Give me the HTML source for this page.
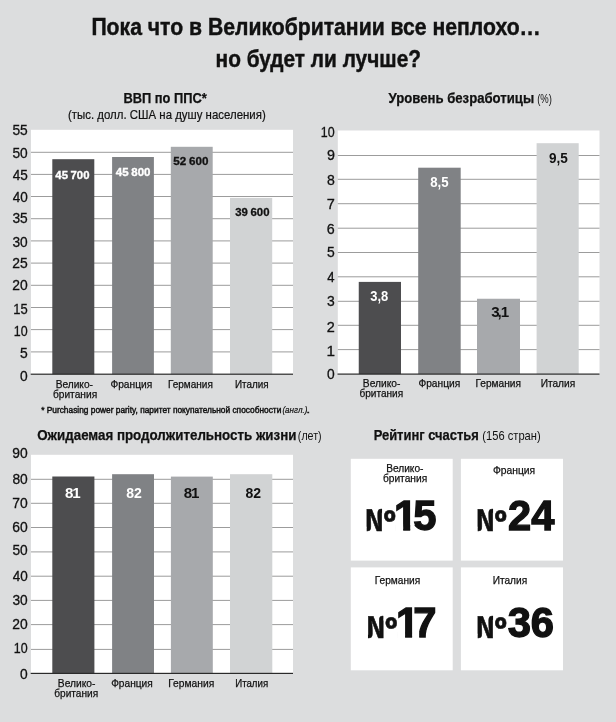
<!DOCTYPE html>
<html lang="ru">
<head>
<meta charset="utf-8">
<title>Пока что в Великобритании все неплохо… но будет ли лучше?</title>
<style>
html,body{margin:0;padding:0;background:#dcddde;}
body{width:616px;height:722px;overflow:hidden;}
svg{display:block;font-family:"Liberation Sans",sans-serif;fill:#111111;}
</style>
</head>
<body>
<svg width="616" height="722" viewBox="0 0 616 722">
<rect x="0" y="0" width="616" height="722" fill="#dcddde"/>
<text x="91.39" y="35.3" font-size="24.3" font-weight="bold" stroke="#111111" stroke-width="0.45" textLength="449.39" lengthAdjust="spacingAndGlyphs">Пока что в Великобритании все неплохо…</text>
<text x="215.55" y="67.1" font-size="24.3" font-weight="bold" stroke="#111111" stroke-width="0.45" textLength="205.44" lengthAdjust="spacingAndGlyphs">но будет ли лучше?</text>
<text x="123.39" y="102.5" font-size="14.0" font-weight="bold" stroke="#111111" stroke-width="0.25" textLength="83.37" lengthAdjust="spacingAndGlyphs">ВВП по ППС*</text>
<text x="68.04" y="119" font-size="12.4" stroke="#111111" stroke-width="0.2" textLength="197.66" lengthAdjust="spacingAndGlyphs">(тыс. долл. США на душу населения)</text>
<rect x="31" y="129.8" width="262" height="244.4" fill="#ffffff"/>
<text x="12.45" y="135.4" font-size="14.6" stroke="#111111" stroke-width="0.3" textLength="15.33" lengthAdjust="spacingAndGlyphs">55</text>
<rect x="31" y="151.8" width="262" height="1" fill="#9c9c9c"/>
<text x="12.45" y="157.9" font-size="14.6" stroke="#111111" stroke-width="0.3" textLength="15.29" lengthAdjust="spacingAndGlyphs">50</text>
<rect x="31" y="173.9" width="262" height="1" fill="#9c9c9c"/>
<text x="12.69" y="179.7" font-size="14.6" stroke="#111111" stroke-width="0.3" textLength="15.08" lengthAdjust="spacingAndGlyphs">45</text>
<rect x="31" y="196.0" width="262" height="1" fill="#9c9c9c"/>
<text x="12.69" y="201.9" font-size="14.6" stroke="#111111" stroke-width="0.3" textLength="15.04" lengthAdjust="spacingAndGlyphs">40</text>
<rect x="31" y="218.2" width="262" height="1" fill="#9c9c9c"/>
<text x="12.48" y="223.4" font-size="14.6" stroke="#111111" stroke-width="0.3" textLength="15.3" lengthAdjust="spacingAndGlyphs">35</text>
<rect x="31" y="240.4" width="262" height="1" fill="#9c9c9c"/>
<text x="12.48" y="246.5" font-size="14.6" stroke="#111111" stroke-width="0.3" textLength="15.26" lengthAdjust="spacingAndGlyphs">30</text>
<rect x="31" y="262.6" width="262" height="1" fill="#9c9c9c"/>
<text x="12.3" y="267.7" font-size="14.6" stroke="#111111" stroke-width="0.3" textLength="15.48" lengthAdjust="spacingAndGlyphs">25</text>
<rect x="31" y="284.8" width="262" height="1" fill="#9c9c9c"/>
<text x="12.3" y="289.8" font-size="14.6" stroke="#111111" stroke-width="0.3" textLength="15.44" lengthAdjust="spacingAndGlyphs">20</text>
<rect x="31" y="307.0" width="262" height="1" fill="#9c9c9c"/>
<text x="13.31" y="313.5" font-size="14.6" stroke="#111111" stroke-width="0.3" textLength="14.43" lengthAdjust="spacingAndGlyphs">15</text>
<rect x="31" y="329.1" width="262" height="1" fill="#9c9c9c"/>
<text x="13.85" y="335.5" font-size="14.6" stroke="#111111" stroke-width="0.3" textLength="13.83" lengthAdjust="spacingAndGlyphs">10</text>
<rect x="31" y="351.4" width="262" height="1" fill="#9c9c9c"/>
<text x="20.04" y="358.3" font-size="14.6" stroke="#111111" stroke-width="0.3" textLength="7.74" lengthAdjust="spacingAndGlyphs">5</text>
<text x="20.06" y="380.5" font-size="14.6" stroke="#111111" stroke-width="0.3" textLength="7.68" lengthAdjust="spacingAndGlyphs">0</text>
<rect x="52.3" y="159.2" width="42.0" height="215.0" fill="#4d4d4f"/>
<rect x="112.1" y="157.0" width="41.8" height="217.2" fill="#808285"/>
<rect x="170.8" y="146.8" width="41.9" height="227.4" fill="#a7a9ac"/>
<rect x="230.0" y="197.9" width="42.2" height="176.3" fill="#d1d3d4"/>
<rect x="30.7" y="373.6" width="262.3" height="1.2" fill="#2a2a2a"/>
<text x="55.67" y="387.5" font-size="11.1" stroke="#111111" stroke-width="0.25" textLength="37.28" lengthAdjust="spacingAndGlyphs">Велико-</text>
<text x="52.9" y="397.6" font-size="11.1" stroke="#111111" stroke-width="0.25" textLength="44.3" lengthAdjust="spacingAndGlyphs">британия</text>
<text x="110.41" y="387.5" font-size="11.1" stroke="#111111" stroke-width="0.25" textLength="41.79" lengthAdjust="spacingAndGlyphs">Франция</text>
<text x="167.99" y="387.5" font-size="11.1" stroke="#111111" stroke-width="0.25" textLength="44.89" lengthAdjust="spacingAndGlyphs">Германия</text>
<text x="234.99" y="387.5" font-size="11.1" stroke="#111111" stroke-width="0.25" textLength="33.69" lengthAdjust="spacingAndGlyphs">Италия</text>
<text x="55.33" y="178.75" font-size="10.9" font-weight="bold" fill="#ffffff" stroke="#ffffff" stroke-width="0.35" word-spacing="-0.5" textLength="34.14" lengthAdjust="spacingAndGlyphs">45 700</text>
<text x="115.83" y="176" font-size="10.9" font-weight="bold" fill="#ffffff" stroke="#ffffff" stroke-width="0.35" word-spacing="-0.5" textLength="34.65" lengthAdjust="spacingAndGlyphs">45 800</text>
<text x="173.39" y="164.5" font-size="10.9" font-weight="bold" stroke="#111111" stroke-width="0.3" word-spacing="-0.5" textLength="35.09" lengthAdjust="spacingAndGlyphs">52 600</text>
<text x="235.24" y="215.5" font-size="10.9" font-weight="bold" stroke="#111111" stroke-width="0.3" word-spacing="-0.5" textLength="34.23" lengthAdjust="spacingAndGlyphs">39 600</text>
<text x="41.17" y="412.5" font-size="9.2" stroke="#111111" stroke-width="0.45" textLength="240.21" lengthAdjust="spacingAndGlyphs">* Purchasing power parity, паритет покупательной способности</text>
<text x="282.42" y="412.5" font-size="9.2" font-style="italic" stroke="#111111" stroke-width="0.2" textLength="25.06" lengthAdjust="spacingAndGlyphs">(англ.)</text>
<text x="306.45" y="412.5" font-size="9.2" stroke="#111111" stroke-width="0.45" textLength="3.5" lengthAdjust="spacingAndGlyphs">.</text>
<text x="388.49" y="102.5" font-size="14.0" font-weight="bold" stroke="#111111" stroke-width="0.25" textLength="145.67" lengthAdjust="spacingAndGlyphs">Уровень безработицы</text>
<text x="537.21" y="102.5" font-size="12.4" textLength="14.78" lengthAdjust="spacingAndGlyphs">(%)</text>
<rect x="337.8" y="130.5" width="261.7" height="243.6" fill="#ffffff"/>
<text x="320.85" y="136.8" font-size="14.6" stroke="#111111" stroke-width="0.3" textLength="13.83" lengthAdjust="spacingAndGlyphs">10</text>
<rect x="337.8" y="155.0" width="261.7" height="1" fill="#9c9c9c"/>
<text x="326.93" y="160.1" font-size="14.6" stroke="#111111" stroke-width="0.3" textLength="7.95" lengthAdjust="spacingAndGlyphs">9</text>
<rect x="337.8" y="178.8" width="261.7" height="1" fill="#9c9c9c"/>
<text x="326.99" y="184.7" font-size="14.6" stroke="#111111" stroke-width="0.3" textLength="7.82" lengthAdjust="spacingAndGlyphs">8</text>
<rect x="337.8" y="203.2" width="261.7" height="1" fill="#9c9c9c"/>
<text x="326.86" y="208.6" font-size="14.6" stroke="#111111" stroke-width="0.3" textLength="8.07" lengthAdjust="spacingAndGlyphs">7</text>
<rect x="337.8" y="227.7" width="261.7" height="1" fill="#9c9c9c"/>
<text x="326.87" y="233.5" font-size="14.6" stroke="#111111" stroke-width="0.3" textLength="7.95" lengthAdjust="spacingAndGlyphs">6</text>
<rect x="337.8" y="252.0" width="261.7" height="1" fill="#9c9c9c"/>
<text x="327.04" y="257.0" font-size="14.6" stroke="#111111" stroke-width="0.3" textLength="7.74" lengthAdjust="spacingAndGlyphs">5</text>
<rect x="337.8" y="276.3" width="261.7" height="1" fill="#9c9c9c"/>
<text x="327.3" y="281.6" font-size="14.6" stroke="#111111" stroke-width="0.3" textLength="7.28" lengthAdjust="spacingAndGlyphs">4</text>
<rect x="337.8" y="300.8" width="261.7" height="1" fill="#9c9c9c"/>
<text x="327.07" y="305.8" font-size="14.6" stroke="#111111" stroke-width="0.3" textLength="7.74" lengthAdjust="spacingAndGlyphs">3</text>
<rect x="337.8" y="324.8" width="261.7" height="1" fill="#9c9c9c"/>
<text x="326.87" y="331.7" font-size="14.6" stroke="#111111" stroke-width="0.3" textLength="8.06" lengthAdjust="spacingAndGlyphs">2</text>
<rect x="337.8" y="349.1" width="261.7" height="1" fill="#9c9c9c"/>
<text x="326.43" y="355.8" font-size="14.6" stroke="#111111" stroke-width="0.3" textLength="8.51" lengthAdjust="spacingAndGlyphs">1</text>
<text x="327.06" y="378.5" font-size="14.6" stroke="#111111" stroke-width="0.3" textLength="7.68" lengthAdjust="spacingAndGlyphs">0</text>
<rect x="358.75" y="281.9" width="42.25" height="92.2" fill="#4d4d4f"/>
<rect x="418.2" y="167.7" width="42.5" height="206.4" fill="#808285"/>
<rect x="477" y="298.75" width="43" height="75.35" fill="#a7a9ac"/>
<rect x="536.6" y="143.2" width="42.1" height="230.9" fill="#d1d3d4"/>
<rect x="337.5" y="373.5" width="262.0" height="1.2" fill="#2a2a2a"/>
<text x="362.86" y="387.2" font-size="11.1" stroke="#111111" stroke-width="0.25" textLength="37.59" lengthAdjust="spacingAndGlyphs">Велико-</text>
<text x="359.41" y="397.3" font-size="11.1" stroke="#111111" stroke-width="0.25" textLength="43.79" lengthAdjust="spacingAndGlyphs">британия</text>
<text x="418.41" y="387.2" font-size="11.1" stroke="#111111" stroke-width="0.25" textLength="41.79" lengthAdjust="spacingAndGlyphs">Франция</text>
<text x="475.43" y="387.2" font-size="11.1" stroke="#111111" stroke-width="0.25" textLength="45.51" lengthAdjust="spacingAndGlyphs">Германия</text>
<text x="540.67" y="387.2" font-size="11.1" stroke="#111111" stroke-width="0.25" textLength="34.53" lengthAdjust="spacingAndGlyphs">Италия</text>
<text x="370.2" y="300.9" font-size="14.0" font-weight="bold" fill="#ffffff" textLength="18.0" lengthAdjust="spacingAndGlyphs">3,8</text>
<text x="430.28" y="186.6" font-size="14.0" font-weight="bold" fill="#ffffff" textLength="18.39" lengthAdjust="spacingAndGlyphs">8,5</text>
<text transform="scale(1.08,1)" x="454.77 460.62 463.66" y="316.8" font-size="14.0" font-weight="bold">3,1</text>
<text x="549.03" y="162.8" font-size="14.0" font-weight="bold" textLength="18.85" lengthAdjust="spacingAndGlyphs">9,5</text>
<text x="37.26" y="439.5" font-size="14.0" font-weight="bold" stroke="#111111" stroke-width="0.25" textLength="259.16" lengthAdjust="spacingAndGlyphs">Ожидаемая продолжительность жизни</text>
<text x="297.85" y="439.5" font-size="12.4" textLength="23.8" lengthAdjust="spacingAndGlyphs">(лет)</text>
<rect x="31" y="454.8" width="262" height="218.6" fill="#ffffff"/>
<text x="12.35" y="457.9" font-size="14.6" stroke="#111111" stroke-width="0.3" textLength="15.39" lengthAdjust="spacingAndGlyphs">90</text>
<rect x="31" y="478.8" width="262" height="1" fill="#9c9c9c"/>
<text x="12.4" y="483.9" font-size="14.6" stroke="#111111" stroke-width="0.3" textLength="15.34" lengthAdjust="spacingAndGlyphs">80</text>
<rect x="31" y="502.8" width="262" height="1" fill="#9c9c9c"/>
<text x="12.29" y="508.1" font-size="14.6" stroke="#111111" stroke-width="0.3" textLength="15.46" lengthAdjust="spacingAndGlyphs">70</text>
<rect x="31" y="527.0" width="262" height="1" fill="#9c9c9c"/>
<text x="12.29" y="532.4" font-size="14.6" stroke="#111111" stroke-width="0.3" textLength="15.45" lengthAdjust="spacingAndGlyphs">60</text>
<rect x="31" y="551.4" width="262" height="1" fill="#9c9c9c"/>
<text x="12.45" y="554.7" font-size="14.6" stroke="#111111" stroke-width="0.3" textLength="15.29" lengthAdjust="spacingAndGlyphs">50</text>
<rect x="31" y="575.7" width="262" height="1" fill="#9c9c9c"/>
<text x="12.69" y="580.7" font-size="14.6" stroke="#111111" stroke-width="0.3" textLength="15.04" lengthAdjust="spacingAndGlyphs">40</text>
<rect x="31" y="599.9" width="262" height="1" fill="#9c9c9c"/>
<text x="12.48" y="604.7" font-size="14.6" stroke="#111111" stroke-width="0.3" textLength="15.26" lengthAdjust="spacingAndGlyphs">30</text>
<rect x="31" y="624.1" width="262" height="1" fill="#9c9c9c"/>
<text x="12.3" y="628.7" font-size="14.6" stroke="#111111" stroke-width="0.3" textLength="15.44" lengthAdjust="spacingAndGlyphs">20</text>
<rect x="31" y="648.9" width="262" height="1" fill="#9c9c9c"/>
<text x="13.85" y="652.8" font-size="14.6" stroke="#111111" stroke-width="0.3" textLength="13.83" lengthAdjust="spacingAndGlyphs">10</text>
<text x="20.06" y="678.5" font-size="14.6" stroke="#111111" stroke-width="0.3" textLength="7.68" lengthAdjust="spacingAndGlyphs">0</text>
<rect x="52.3" y="476.5" width="42.1" height="196.9" fill="#4d4d4f"/>
<rect x="112.1" y="474.2" width="41.9" height="199.2" fill="#808285"/>
<rect x="170.9" y="476.6" width="41.9" height="196.8" fill="#a7a9ac"/>
<rect x="230.0" y="474.2" width="42.3" height="199.2" fill="#d1d3d4"/>
<rect x="30.7" y="672.8" width="262.3" height="1.2" fill="#2a2a2a"/>
<text x="57.86" y="686.9" font-size="11.1" stroke="#111111" stroke-width="0.25" textLength="37.59" lengthAdjust="spacingAndGlyphs">Велико-</text>
<text x="54.31" y="696.6" font-size="11.1" stroke="#111111" stroke-width="0.25" textLength="43.89" lengthAdjust="spacingAndGlyphs">британия</text>
<text x="111.17" y="686.9" font-size="11.1" stroke="#111111" stroke-width="0.25" textLength="41.54" lengthAdjust="spacingAndGlyphs">Франция</text>
<text x="168.17" y="686.9" font-size="11.1" stroke="#111111" stroke-width="0.25" textLength="46.03" lengthAdjust="spacingAndGlyphs">Германия</text>
<text x="235.21" y="686.9" font-size="11.1" stroke="#111111" stroke-width="0.25" textLength="32.96" lengthAdjust="spacingAndGlyphs">Италия</text>
<text transform="scale(1.08,1)" x="60.3 66.99" y="497.7" font-size="14.0" font-weight="bold" fill="#ffffff">81</text>
<text x="126.25" y="497.7" font-size="14.0" font-weight="bold" fill="#ffffff" textLength="15.61" lengthAdjust="spacingAndGlyphs">82</text>
<text transform="scale(1.08,1)" x="170.2 176.9" y="497.7" font-size="14.0" font-weight="bold">81</text>
<text x="245.55" y="497.7" font-size="14.0" font-weight="bold" textLength="15.61" lengthAdjust="spacingAndGlyphs">82</text>
<text x="373.64" y="439.5" font-size="14.0" font-weight="bold" stroke="#111111" stroke-width="0.25" textLength="105.26" lengthAdjust="spacingAndGlyphs">Рейтинг счастья</text>
<text x="482.31" y="439.5" font-size="12.4" textLength="58.38" lengthAdjust="spacingAndGlyphs">(156 стран)</text>
<rect x="350.8" y="458.8" width="101.9" height="101.8" fill="#ffffff"/>
<text x="386.17" y="472" font-size="11.1" stroke="#111111" stroke-width="0.25" textLength="37.28" lengthAdjust="spacingAndGlyphs">Велико-</text>
<text x="382.9" y="481.5" font-size="11.1" stroke="#111111" stroke-width="0.25" textLength="44.3" lengthAdjust="spacingAndGlyphs">британия</text>
<text x="364.08" y="530.6" font-family="&quot;Noto Sans CJK SC&quot;,&quot;Noto Sans CJK JP&quot;,&quot;DejaVu Sans Condensed&quot;,sans-serif" font-weight="bold" font-size="29.5" stroke="#111" stroke-width="0.6">№</text>
<path fill="#ffffff" d="M363.58 526.67H366.68V532.1H363.58Z M382.07 507.92H384.55V513.26H382.07Z M384.73 522.19H395.76V527.69H384.73Z"/>
<clipPath id="c1"><path clip-rule="evenodd" d="M350.8 458.8H452.70000000000005V560.6H350.8Z M395.53 524.79H403.18V531.5H395.53Z M410.2 524.79H414.0L419.8 531.5H410.2Z"/></clipPath>
<text x="394.1 413.17" y="530.0" font-weight="bold" font-size="41.7" stroke="#111" stroke-width="1.3" stroke-linejoin="miter" clip-path="url(#c1)">15</text>
<rect x="460.9" y="458.8" width="102.1" height="101.8" fill="#ffffff"/>
<text x="492.91" y="473.5" font-size="11.1" stroke="#111111" stroke-width="0.25" textLength="42.31" lengthAdjust="spacingAndGlyphs">Франция</text>
<text x="475.08" y="530.6" font-family="&quot;Noto Sans CJK SC&quot;,&quot;Noto Sans CJK JP&quot;,&quot;DejaVu Sans Condensed&quot;,sans-serif" font-weight="bold" font-size="29.5" stroke="#111" stroke-width="0.6">№</text>
<path fill="#ffffff" d="M474.58 526.67H477.68V532.1H474.58Z M493.07 507.92H495.55V513.26H493.07Z M495.73 522.19H506.76V527.69H495.73Z"/>
<text x="508.0 531.2" y="530.0" font-weight="bold" font-size="41.7" stroke="#111" stroke-width="1.3" stroke-linejoin="miter">24</text>
<rect x="350.8" y="567.4" width="101.9" height="102.9" fill="#ffffff"/>
<text x="374.68" y="583.75" font-size="11.1" stroke="#111111" stroke-width="0.25" textLength="45.51" lengthAdjust="spacingAndGlyphs">Германия</text>
<text x="365.38" y="637.8" font-family="&quot;Noto Sans CJK SC&quot;,&quot;Noto Sans CJK JP&quot;,&quot;DejaVu Sans Condensed&quot;,sans-serif" font-weight="bold" font-size="29.5" stroke="#111" stroke-width="0.6">№</text>
<path fill="#ffffff" d="M364.88 633.87H367.98V639.3H364.88Z M383.37 615.12H385.85V620.46H383.37Z M386.03 629.39H397.06V634.89H386.03Z"/>
<clipPath id="c2"><path clip-rule="evenodd" d="M350.8 567.4H452.70000000000005V670.3H350.8Z M397.43 631.99H405.08V638.7H397.43Z M412.1 631.99H419.23V638.7H412.1Z"/></clipPath>
<text x="396.0 413.15" y="637.2" font-weight="bold" font-size="41.7" stroke="#111" stroke-width="1.3" stroke-linejoin="miter" clip-path="url(#c2)">17</text>
<rect x="460.9" y="567.4" width="102.1" height="102.9" fill="#ffffff"/>
<text x="492.67" y="583.5" font-size="11.1" stroke="#111111" stroke-width="0.25" textLength="34.53" lengthAdjust="spacingAndGlyphs">Италия</text>
<text x="475.08" y="637.8" font-family="&quot;Noto Sans CJK SC&quot;,&quot;Noto Sans CJK JP&quot;,&quot;DejaVu Sans Condensed&quot;,sans-serif" font-weight="bold" font-size="29.5" stroke="#111" stroke-width="0.6">№</text>
<path fill="#ffffff" d="M474.58 633.87H477.68V639.3H474.58Z M493.07 615.12H495.55V620.46H493.07Z M495.73 629.39H506.76V634.89H495.73Z"/>
<text x="507.7 530.7" y="637.3" font-weight="bold" font-size="41.7" stroke="#111" stroke-width="1.3" stroke-linejoin="miter">36</text>
</svg>
</body>
</html>
